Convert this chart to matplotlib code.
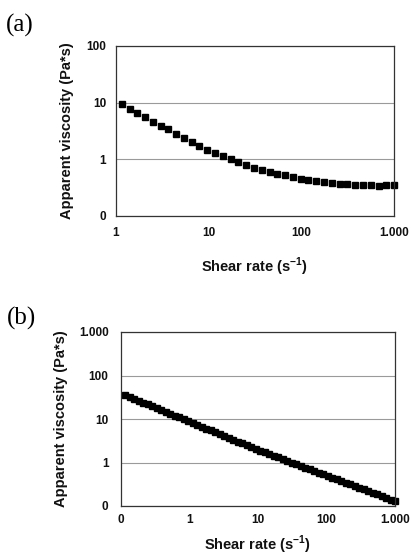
import matplotlib as mpl
mpl.use("Agg")
import matplotlib.pyplot as plt
from matplotlib.ticker import FixedLocator, FixedFormatter, NullLocator

plt.rcParams['font.family'] = ['Liberation Sans', 'DejaVu Sans']
plt.rcParams['mathtext.fontset'] = 'custom'
plt.rcParams['mathtext.rm'] = 'Liberation Sans:bold'
plt.rcParams['mathtext.bf'] = 'Liberation Sans:bold'

# panel (a) data
shear_a = [1.15, 1.40, 1.69, 2.06, 2.49, 3.03, 3.67, 4.46, 5.41, 6.56, 7.96, 9.66,
           11.7, 14.2, 17.3, 20.9, 25.4, 30.8, 37.4, 45.4, 55.1, 66.8, 81.1, 98.4,
           119, 145, 176, 213, 259, 314, 381, 462, 561, 681, 826, 1000]
visc_a = [9.3, 7.8, 6.5, 5.5, 4.6, 3.9, 3.4, 2.8, 2.4, 2.03, 1.73, 1.49,
          1.30, 1.15, 1.01, 0.88, 0.79, 0.71, 0.65, 0.60, 0.56, 0.52, 0.49, 0.45,
          0.43, 0.41, 0.40, 0.38, 0.37, 0.36, 0.35, 0.35, 0.35, 0.34, 0.35, 0.35]

# panel (b) data
shear_b = [0.115, 0.134, 0.155, 0.181, 0.210, 0.245, 0.284, 0.331, 0.385, 0.448,
           0.521, 0.607, 0.706, 0.821, 0.955, 1.11, 1.29, 1.50, 1.75, 2.03,
           2.37, 2.75, 3.20, 3.72, 4.33, 5.04, 5.86, 6.82, 7.94, 9.23,
           10.7, 12.5, 14.5, 16.9, 19.7, 22.9, 26.6, 31.0, 36.0, 41.9,
           48.8, 56.7, 65.9, 76.7, 89.3, 104, 121, 141, 164, 190,
           221, 258, 299, 348, 406, 471, 548, 638, 741, 863, 1000]
visc_b = [35.5, 32.1, 29.2, 26.4, 23.9, 21.7, 19.7, 17.8, 16.2, 14.6,
          13.3, 12.0, 10.9, 9.89, 8.96, 8.11, 7.36, 6.67, 6.04, 5.48,
          4.97, 4.50, 4.08, 3.70, 3.35, 3.03, 2.75, 2.49, 2.26, 2.05,
          1.87, 1.71, 1.56, 1.43, 1.31, 1.20, 1.09, 1.00, 0.914, 0.837,
          0.766, 0.700, 0.641, 0.586, 0.536, 0.491, 0.449, 0.410, 0.375, 0.344,
          0.314, 0.287, 0.262, 0.240, 0.219, 0.201, 0.184, 0.168, 0.154, 0.141, 0.129]

xticks_a = [1, 10, 100, 1000]
xlabels_a = ["1", "10", "100", "1.000"]
yticks_a = [0.1, 1, 10, 100]
ylabels_a = ["0", "1", "10", "100"]
xticks_b = [0.1, 1, 10, 100, 1000]
xlabels_b = ["0", "1", "10", "100", "1.000"]
yticks_b = [0.1, 1, 10, 100, 1000]
ylabels_b = ["0", "1", "10", "100", "1.000"]

fig = plt.figure(figsize=(4.11, 5.56), dpi=100)
ax_a = fig.add_axes([116/411, 1-216/556, 278/411, 170/556])
ax_b = fig.add_axes([121/411, 1-506/556, 274/411, 174/556])


def style_axis(ax, xt, xl, yt, yl, xpad, ypad):
    ax.set_xscale('log')
    ax.set_yscale('log')
    ax.set_xlim(xt[0], xt[-1])
    ax.set_ylim(yt[0], yt[-1])
    ax.xaxis.set_major_locator(FixedLocator(xt))
    ax.xaxis.set_major_formatter(FixedFormatter(xl))
    ax.yaxis.set_major_locator(FixedLocator(yt))
    ax.yaxis.set_major_formatter(FixedFormatter(yl))
    ax.xaxis.set_minor_locator(NullLocator())
    ax.yaxis.set_minor_locator(NullLocator())
    ax.tick_params(axis='x', length=0, pad=xpad, labelsize=8.5, colors='#111111')
    ax.tick_params(axis='y', length=0, pad=ypad, labelsize=8.5, colors='#111111')
    for lab in ax.get_xticklabels() + ax.get_yticklabels():
        lab.set_fontweight('bold')
    ax.grid(axis='y', color='#9a9a9a', lw=0.8)
    ax.set_axisbelow(True)
    for sp in ax.spines.values():
        sp.set_color('#333333')
        sp.set_linewidth(0.9)
    ax.set_xlabel(r'Shear rate (s$^{-1}$)', fontsize=10.5, fontweight='bold', color='#111111')
    ax.set_ylabel('Apparent viscosity (Pa*s)', fontsize=10.5, fontweight='bold', color='#111111')


style_axis(ax_a, xticks_a, xlabels_a, yticks_a, ylabels_a, 8, 7)
ax_a.plot(shear_a, visc_a, 's', color='black', ms=4.3, clip_on=False)
ax_a.xaxis.labelpad = 12
ax_a.yaxis.labelpad = 9

style_axis(ax_b, xticks_b, xlabels_b, yticks_b, ylabels_b, 6, 9)
ax_b.plot(shear_b, visc_b, 's', color='black', ms=5, clip_on=False)
ax_b.xaxis.labelpad = 5
ax_b.yaxis.labelpad = 8

fig.text(6/411, 1-25/556, '(a)', family='Liberation Serif', fontsize=18, va='center', ha='left')
fig.text(7/411, 1-318/556, '(b)', family='Liberation Serif', fontsize=18, va='center', ha='left')

plt.savefig('out.png', dpi=100)
